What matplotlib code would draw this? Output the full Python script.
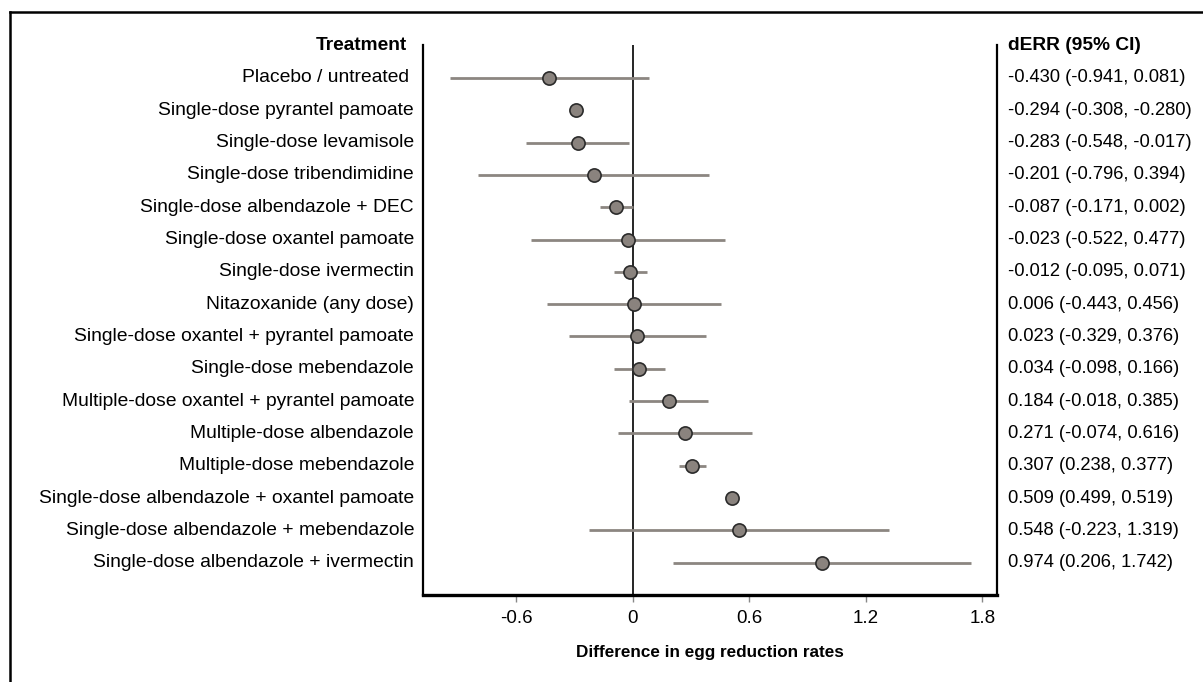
import matplotlib.pyplot as plt
from matplotlib.lines import Line2D

plt.rcParams['font.family'] = ['Liberation Sans', 'DejaVu Sans']

treatments = [
    "Placebo / untreated ",
    "Single-dose pyrantel pamoate",
    "Single-dose levamisole",
    "Single-dose tribendimidine",
    "Single-dose albendazole + DEC",
    "Single-dose oxantel pamoate",
    "Single-dose ivermectin",
    "Nitazoxanide (any dose)",
    "Single-dose oxantel + pyrantel pamoate",
    "Single-dose mebendazole",
    "Multiple-dose oxantel + pyrantel pamoate",
    "Multiple-dose albendazole",
    "Multiple-dose mebendazole",
    "Single-dose albendazole + oxantel pamoate",
    "Single-dose albendazole + mebendazole",
    "Single-dose albendazole + ivermectin",
]
derr = [-0.430, -0.294, -0.283, -0.201, -0.087, -0.023, -0.012, 0.006,
        0.023, 0.034, 0.184, 0.271, 0.307, 0.509, 0.548, 0.974]
ci_low = [-0.941, -0.308, -0.548, -0.796, -0.171, -0.522, -0.095, -0.443,
          -0.329, -0.098, -0.018, -0.074, 0.238, 0.499, -0.223, 0.206]
ci_high = [0.081, -0.280, -0.017, 0.394, 0.002, 0.477, 0.071, 0.456,
           0.376, 0.166, 0.385, 0.616, 0.377, 0.519, 1.319, 1.742]
xticks = [-0.6, 0, 0.6, 1.2, 1.8]
xtick_labels = ["-0.6", "0", "0.6", "1.2", "1.8"]

W, H = 1203, 682
fig = plt.figure(figsize=(W / 100, H / 100), dpi=100)
ax = fig.add_axes([423 / W, 1 - 595 / H, (997 - 423) / W, (595 - 45) / H])

line_col = '#8c8681'
rows = list(range(len(treatments)))

ax.axvline(0, color='black', lw=1.2, zorder=1)
ax.hlines(rows, ci_low, ci_high, color=line_col, lw=2.0, zorder=2)
ax.plot(derr, rows, 'o', ms=9.5, mfc='#8a837e', mec='#2b2b2b', mew=1.2, zorder=3)

ax.set_xlim(-1.08, 1.875)
ax.set_ylim(16.0, -1.02)
ax.set_yticks([])
ax.set_xticks(xticks)
ax.set_xticklabels(xtick_labels, fontsize=13.5)
ax.tick_params(axis='x', length=5, width=1, color='#888888', pad=6)

ax.spines['top'].set_visible(False)
for s in ['left', 'right']:
    ax.spines[s].set_linewidth(1.6)
ax.spines['bottom'].set_linewidth(2.4)

ax.set_xlabel("Difference in egg reduction rates", fontsize=12.3,
              fontweight='bold', labelpad=13)

# left column: treatment names, right column: estimate and CI
for i, name in enumerate(treatments):
    y = 1 - (78 + 32.33 * i) / H
    fig.text(414 / W, y, name, ha='right', va='center', fontsize=13.9)
    txt = f"{derr[i]:.3f} ({ci_low[i]:.3f}, {ci_high[i]:.3f})"
    fig.text(1008 / W, y, txt, ha='left', va='center', fontsize=13.2)

fig.text(407 / W, 1 - 46 / H, "Treatment", ha='right', va='center',
         fontsize=13.8, fontweight='bold')
fig.text(1008 / W, 1 - 46 / H, "dERR (95% CI)", ha='left', va='center',
         fontsize=13.8, fontweight='bold')

# frame around the panel (top and left edges fall inside the canvas)
fig.add_artist(Line2D([10 / W, 10 / W], [0, 1 - 12 / H], color='black', lw=1.8))
fig.add_artist(Line2D([10 / W, 1], [1 - 12 / H, 1 - 12 / H], color='black', lw=1.8))

fig.savefig('out.png', dpi=100)
